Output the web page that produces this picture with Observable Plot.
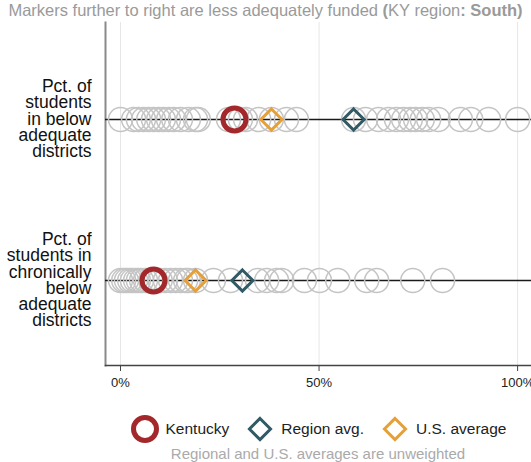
<!DOCTYPE html>
<html>
<head>
<meta charset="utf-8">
<script src="https://cdn.jsdelivr.net/npm/d3@7"></script>
<script src="https://cdn.jsdelivr.net/npm/@observablehq/plot@0.6"></script>
<style>
  html, body { margin: 0; padding: 0; background: #fff; }
  body { width: 531px; height: 462px; overflow: hidden; font-family: "Liberation Sans", Arial, Helvetica, sans-serif; }
  #title { height: 20px; line-height: 20px; text-align: center; color: #9a9a9a; font-size: 16.5px; white-space: nowrap; }
  #title b { font-weight: bold; }
  #chart svg { display: block; overflow: visible; }
  #legend { display: flex; justify-content: center; align-items: center; padding-left: 105px; margin-top: 18px; height: 32px; font-size: 15.5px; color: #222; }
  #legend .item { display: flex; align-items: center; margin: 0 8px; }
  #legend svg { margin-right: 6px; }
  #caption { text-align: center; padding-left: 105px; color: #aaa; font-size: 15px; line-height: 18px; margin-top: 0px; }
</style>
</head>
<body>
<div id="title">Markers further to right are less adequately funded <b>(</b>KY region<b>: South)</b></div>
<div id="chart"></div>
<div id="legend"></div>
<div id="caption">Regional and U.S. averages are unweighted</div>
<script>
const rows = [
  "Pct. of\nstudents\nin below\nadequate\ndistricts",
  "Pct. of\nstudents in\nchronically\nbelow\nadequate\ndistricts"
];
const xTicks = [0, 50, 100];
const xDomain = [-3.78, 103.5];

// all states (gray circles), values in percent
const statesBelow = [0, 3.3, 4.5, 5.8, 7.1, 8.3, 9.6, 10.8, 12.1, 13.4, 15.1, 17.1, 18.9, 19.6,
  27.2, 29.2, 30.2, 31.5, 34.8, 38.0, 41.8, 44.3, 58.7, 61.7, 65.0, 67.5, 69.5, 71.3, 73.0,
  74.3, 76.0, 77.6, 80.0, 85.6, 88.2, 92.7, 100];
const statesChronic = [0, 0.8, 1.5, 2.3, 3.0, 3.8, 4.5, 5.3, 6.3, 7.6, 8.8, 10.0, 11.3, 12.6,
  13.9, 15.1, 16.4, 17.1, 18.9, 23.4, 27.7, 34.5, 36.8, 39.3, 40.6, 46.3, 50.1, 54.7, 62.0,
  64.5, 73.6, 81.1];
const kentucky = [28.7, 8.3];
const regionAvg = [58.7, 30.7];
const usAvg = [38.0, 18.9];

const colKY = "#a3282b", colRegion = "#305a66", colUS = "#e5a03a", colGray = "#c4c4c4";

const grayData = [
  ...statesBelow.map(v => ({row: rows[0], v})),
  ...statesChronic.map(v => ({row: rows[1], v}))
];
const kyData = rows.map((row, i) => ({row, v: kentucky[i]}));
const regData = rows.map((row, i) => ({row, v: regionAvg[i]}));
const usData = rows.map((row, i) => ({row, v: usAvg[i]}));

const plot = Plot.plot({
  width: 531,
  height: 375,
  marginLeft: 105,
  marginRight: 0,
  marginTop: 2,
  marginBottom: 30,
  style: {fontFamily: '"Liberation Sans", Arial, Helvetica, sans-serif', background: "white"},
  x: {domain: xDomain},
  y: {type: "point", domain: rows, range: [99, 260], padding: 0},
  marks: [
    Plot.ruleX(xTicks, {stroke: "#e6e6e6", strokeWidth: 1}),
    Plot.frame({anchor: "left", stroke: "#8a8a8a", strokeWidth: 2}),
    Plot.frame({anchor: "bottom", stroke: "#444", strokeWidth: 1.5}),
    Plot.ruleY(rows, {stroke: "#1a1a1a", strokeWidth: 1.5}),
    Plot.dot(grayData, {x: "v", y: "row", r: 12, stroke: colGray, strokeWidth: 1.5, fill: "none"}),
    Plot.dot(kyData, {x: "v", y: "row", r: 11.5, stroke: colKY, strokeWidth: 5, fill: "none"}),
    Plot.dot(regData, {x: "v", y: "row", r: 9.5, symbol: "diamond2", stroke: colRegion, strokeWidth: 3, fill: "none"}),
    Plot.dot(usData, {x: "v", y: "row", r: 9.5, symbol: "diamond2", stroke: colUS, strokeWidth: 3, fill: "none"}),
    Plot.axisX({ticks: xTicks, tickFormat: d => d + "%", tickSize: 6, tickPadding: 6, fontSize: 13, stroke: "#444", fill: "#222", label: null}),
    Plot.axisY({tickSize: 0, tickPadding: 14, fontSize: 17.5, lineHeight: 0.93, fill: "#111", label: null})
  ]
});
document.getElementById("chart").appendChild(plot);

// legend
const legendItems = [
  {label: "Kentucky", kind: "circle", color: colKY},
  {label: "Region avg.", kind: "diamond", color: colRegion},
  {label: "U.S. average", kind: "diamond", color: colUS}
];
const legend = d3.select("#legend");
legendItems.forEach(it => {
  const item = legend.append("div").attr("class", "item");
  const s = item.append("svg").attr("width", 30).attr("height", 30).attr("viewBox", "-15 -15 30 30");
  if (it.kind === "circle") {
    s.append("circle").attr("r", 11.5).attr("fill", "none").attr("stroke", it.color).attr("stroke-width", 5);
  } else {
    s.append("path").attr("d", d3.symbol(d3.symbolDiamond2, Math.PI * 9.5 * 9.5)()).attr("fill", "none").attr("stroke", it.color).attr("stroke-width", 3);
  }
  item.append("span").text(it.label);
});
</script>
</body>
</html>
